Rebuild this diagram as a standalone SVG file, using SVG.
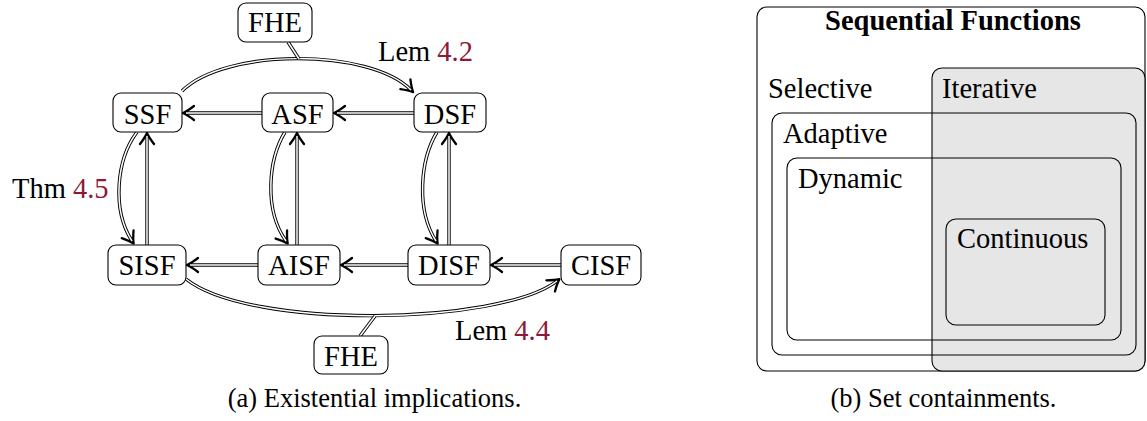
<svg xmlns="http://www.w3.org/2000/svg" width="1147" height="421" viewBox="0 0 1147 421">
<style>
text{font-family:"Liberation Serif","Times New Roman",serif;fill:#000}
.n rect{fill:#fff;stroke:#000;stroke-width:1.1}
.n text{font-size:28.5px;text-anchor:middle}
.lbl{font-size:28.5px}
.red{fill:#8c1a36}
.cap{font-size:26.5px;text-anchor:middle}
.o{fill:none;stroke:#000;stroke-width:3.4}
.i{fill:none;stroke:#fff;stroke-width:1.5}
.set{fill:none;stroke:#000;stroke-width:1.1}
.st{font-size:28.5px}
</style>
<defs>
<marker id="ar" markerUnits="userSpaceOnUse" markerWidth="24" markerHeight="24" refX="0" refY="0" orient="auto" overflow="visible" viewBox="-12 -12 24 24">
<path d="M-8,-7 Q-1.5,-2 3,0 Q-1.5,2 -8,7" fill="none" stroke="#000" stroke-width="2.3" stroke-linecap="round" stroke-linejoin="round"/>
</marker>
</defs>
<g id="connectors">
<path id="c1" class="o" d="M262,113 L186,113" marker-end="url(#ar)"/><path class="i" d="M262,113 L186,113"/>
<path id="c2" class="o" d="M414,113 L337,113" marker-end="url(#ar)"/><path class="i" d="M414,113 L337,113"/>
<path id="c3" class="o" d="M258,265 L190,265" marker-end="url(#ar)"/><path class="i" d="M258,265 L190,265"/>
<path id="c4" class="o" d="M408,265 L344,265" marker-end="url(#ar)"/><path class="i" d="M408,265 L344,265"/>
<path id="c5" class="o" d="M561,265 L494,265" marker-end="url(#ar)"/><path class="i" d="M561,265 L494,265"/>
<path id="c6" class="o" d="M147,245 L147,136" marker-end="url(#ar)"/><path class="i" d="M147,245 L147,136"/>
<path id="c7" class="o" d="M297,245 L297,136" marker-end="url(#ar)"/><path class="i" d="M297,245 L297,136"/>
<path id="c8" class="o" d="M449,245 L449,136" marker-end="url(#ar)"/><path class="i" d="M449,245 L449,136"/>
<path id="c9" class="o" d="M137,132 C116,160 112,210 132,241" marker-end="url(#ar)"/><path class="i" d="M137,132 C116,160 112,210 132,241"/>
<path id="c10" class="o" d="M285,132 C268,160 264,210 286,241" marker-end="url(#ar)"/><path class="i" d="M285,132 C268,160 264,210 286,241"/>
<path id="c11" class="o" d="M437,132 C420,160 416,210 436,241" marker-end="url(#ar)"/><path class="i" d="M437,132 C420,160 416,210 436,241"/>
<path id="c12" class="o" d="M182,91 C225,48 370,48 411,90" marker-end="url(#ar)"/><path class="i" d="M182,91 C225,48 370,48 411,90"/>
<path id="c13" class="o" d="M288,42 L299,59"/><path class="i" d="M288,42 L299,59"/>
<path id="c14" class="o" d="M186,279 C250,330 500,325 557,281" marker-end="url(#ar)"/><path class="i" d="M186,279 C250,330 500,325 557,281"/>
<path id="c15" class="o" d="M360,336 L375,316"/><path class="i" d="M360,336 L375,316"/>
</g>
<g id="labels">
<text class="lbl" x="378" y="61">Lem <tspan class="red">4.2</tspan></text>
<text class="lbl" x="12" y="198">Thm <tspan class="red">4.5</tspan></text>
<text class="lbl" x="455" y="340">Lem <tspan class="red">4.4</tspan></text>
</g>
<g id="FHE1" class="n"><rect x="238" y="3" width="74" height="39" rx="8"/><text x="275" y="32">FHE</text></g>
<g id="SSF" class="n"><rect x="113" y="93" width="69" height="39" rx="8"/><text x="147.5" y="124">SSF</text></g>
<g id="ASF" class="n"><rect x="262" y="93" width="71" height="39" rx="8"/><text x="297.5" y="124">ASF</text></g>
<g id="DSF" class="n"><rect x="414" y="93" width="72" height="39" rx="8"/><text x="450" y="124">DSF</text></g>
<g id="SISF" class="n"><rect x="108" y="245" width="78" height="40" rx="8"/><text x="147" y="275">SISF</text></g>
<g id="AISF" class="n"><rect x="258" y="245" width="82" height="40" rx="8"/><text x="299" y="275">AISF</text></g>
<g id="DISF" class="n"><rect x="408" y="245" width="82" height="40" rx="8"/><text x="449" y="275">DISF</text></g>
<g id="CISF" class="n"><rect x="561" y="245" width="80" height="40" rx="8"/><text x="601" y="275">CISF</text></g>
<g id="FHE2" class="n"><rect x="314" y="336" width="74" height="38" rx="8"/><text x="351" y="366">FHE</text></g>
<text class="cap" x="374.5" y="407">(a) Existential implications.</text>
<g id="sets">
<rect x="757" y="7" width="388" height="364" rx="10" fill="#fff" stroke="#000" stroke-width="1.1"/>
<rect x="932" y="68" width="213" height="303" rx="10" fill="#e6e6e6"/>
<rect class="set" x="772" y="113" width="364" height="242" rx="10"/>
<rect class="set" x="787" y="158" width="334" height="182" rx="10"/>
<rect class="set" x="946" y="219" width="159" height="106" rx="10"/>
<rect class="set" x="932" y="68" width="213" height="303" rx="10"/>
<text class="st" x="953" y="30" text-anchor="middle" font-weight="bold">Sequential Functions</text>
<text class="st" x="768" y="98">Selective</text>
<text class="st" x="942" y="98">Iterative</text>
<text class="st" x="783" y="143">Adaptive</text>
<text class="st" x="798" y="188">Dynamic</text>
<text class="st" x="957" y="248">Continuous</text>
</g>
<text class="cap" x="943.5" y="407">(b) Set containments.</text>
</svg>
